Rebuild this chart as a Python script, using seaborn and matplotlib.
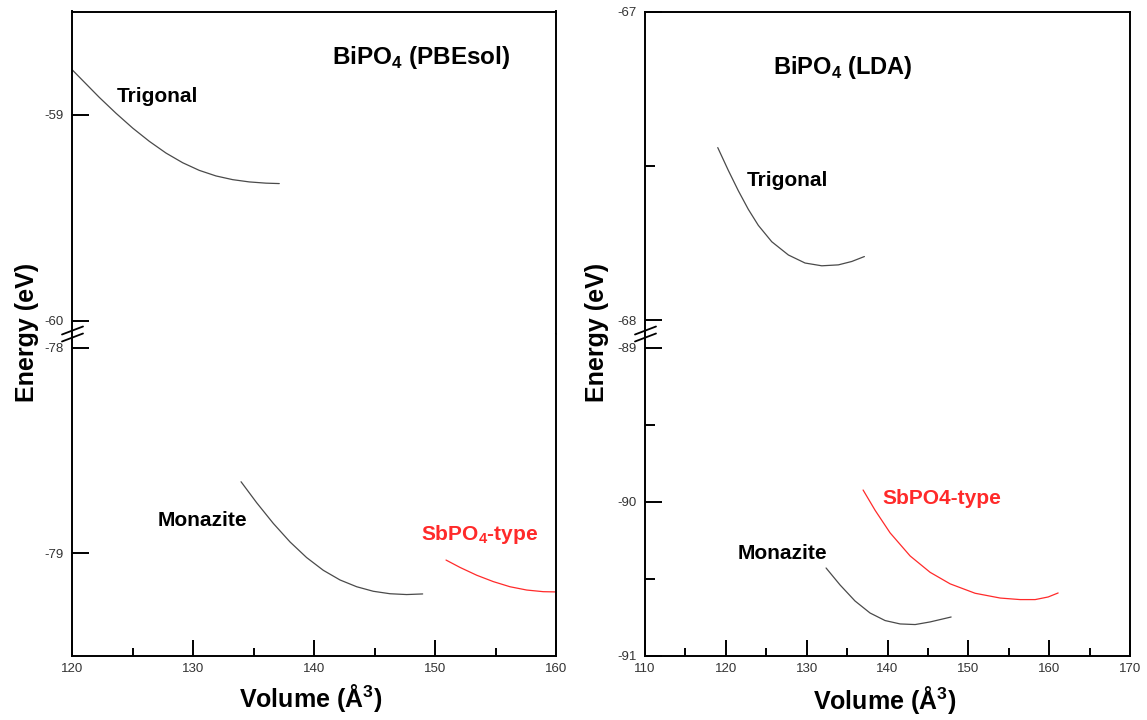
import matplotlib
matplotlib.use("Agg")
import matplotlib.pyplot as plt
from matplotlib.lines import Line2D
import seaborn as sns

# ---------------- data ----------------
# Left panel: BiPO4 (PBEsol)
pbe_trig_V = [120.0, 122.26, 123.64, 125.02, 126.39, 127.77, 129.15, 130.52, 131.90, 133.28, 134.65, 136.03, 137.13]
pbe_trig_E = [-58.782, -58.917, -58.994, -59.066, -59.130, -59.187, -59.234, -59.271, -59.298, -59.316, -59.327, -59.333, -59.335]
pbe_mona_V = [133.97, 135.26, 136.64, 138.02, 139.39, 140.77, 142.15, 143.53, 144.90, 146.28, 147.66, 148.98]
pbe_mona_E = [-78.652, -78.754, -78.855, -78.945, -79.021, -79.083, -79.130, -79.163, -79.185, -79.197, -79.201, -79.198]
pbe_sb_V = [150.91, 152.07, 153.45, 154.82, 156.20, 157.58, 158.95, 159.83, 160.5]
pbe_sb_E = [-79.033, -79.069, -79.107, -79.138, -79.163, -79.179, -79.187, -79.188, -79.189]

# Right panel: BiPO4 (LDA)
lda_trig_V = [119.0, 120.31, 121.55, 122.78, 124.02, 125.68, 127.74, 129.80, 131.87, 133.92, 135.58, 137.14]
lda_trig_E = [-67.441, -67.515, -67.581, -67.641, -67.693, -67.746, -67.789, -67.815, -67.824, -67.821, -67.810, -67.794]
lda_mona_V = [132.40, 134.13, 135.98, 137.84, 139.70, 141.56, 143.42, 145.27, 147.87]
lda_mona_E = [-90.429, -90.539, -90.643, -90.721, -90.770, -90.792, -90.796, -90.779, -90.747]
lda_sb_V = [136.98, 138.47, 140.32, 142.80, 145.27, 147.75, 150.84, 153.94, 156.41, 158.27, 159.88, 161.11]
lda_sb_E = [-89.923, -90.055, -90.201, -90.351, -90.457, -90.532, -90.593, -90.624, -90.634, -90.634, -90.617, -90.591]

# axis ranges / ticks
pbe_xlim = (120, 160)
pbe_xticks = [120, 130, 140, 150, 160]
pbe_up_ylim = (-60.065, -58.5)
pbe_up_yticks = [-60, -59]
pbe_lo_ylim = (-79.5, -77.933)
pbe_lo_yticks = [-79, -78]

lda_xlim = (110, 170)
lda_xticks = [110, 120, 130, 140, 150, 160, 170]
lda_up_ylim = (-68.045, -67.0)
lda_up_yticks = [-68, -67]
lda_up_yminor = [-67.5]
lda_lo_ylim = (-91.0, -88.911)
lda_lo_yticks = [-91, -90, -89]
lda_lo_yminor = [-90.5, -89.5]

# ---------------- style ----------------
sns.set_style("white")
plt.rcParams["font.family"] = ["Liberation Sans", "DejaVu Sans"]
plt.rcParams["axes.unicode_minus"] = False
plt.rcParams["text.color"] = "black"
plt.rcParams["axes.labelcolor"] = "black"
plt.rcParams["mathtext.fontset"] = "custom"
plt.rcParams["mathtext.rm"] = "Liberation Sans"
plt.rcParams["mathtext.bf"] = "Liberation Sans:bold"

W, H = 1147, 720
fig = plt.figure(figsize=(W / 100, H / 100), dpi=100)

def fx(px):
    return px / W

def fy(py):
    return 1 - py / H

TOP, JOIN, BOT = 11.5, 334.0, 656.0
TICKCOL = "#333333"
LINECOL = "#4a4a4a"
RED = "#ff2a2a"
SPW = 1.4

def make_panel(x0, x1, xlim, xticks, up_ylim, up_yticks, lo_ylim, lo_yticks,
               up_minor=None, lo_minor=None):
    axu = fig.add_axes([fx(x0), fy(JOIN), fx(x1 - x0), (JOIN - TOP) / H])
    axl = fig.add_axes([fx(x0), fy(BOT), fx(x1 - x0), (BOT - JOIN) / H])
    for ax in (axu, axl):
        ax.set_xlim(*xlim)
        for s in ax.spines.values():
            s.set_linewidth(SPW)
            s.set_color("black")
        ax.tick_params(axis="both", which="major", direction="in", length=12,
                       width=SPW, color="black", labelsize=9.5, labelcolor=TICKCOL, pad=6)
        ax.tick_params(axis="both", which="minor", direction="in", length=6.5,
                       width=SPW, color="black")
        ax.tick_params(which="both", top=False, right=False, left=True, bottom=True)
        ax.set_facecolor("white")
    axu.set_ylim(*up_ylim)
    axl.set_ylim(*lo_ylim)
    axu.spines["bottom"].set_visible(False)
    axl.spines["top"].set_visible(False)
    axu.tick_params(which="both", bottom=False, labelbottom=False)
    axu.set_xticks([])
    axl.set_xticks(xticks)
    axl.set_xticks([t + 5 for t in xticks[:-1]], minor=True)
    axl.set_xticklabels([str(t) for t in xticks])
    axu.set_yticks(up_yticks)
    axu.set_yticklabels([str(t) for t in up_yticks])
    axl.set_yticks(lo_yticks)
    axl.set_yticklabels([str(t) for t in lo_yticks])
    axu.set_yticks(up_minor or [], minor=True)
    axl.set_yticks(lo_minor or [], minor=True)
    axu.tick_params(axis="y", which="minor", length=7.5)
    axl.tick_params(axis="y", which="minor", length=7.5)
    axl.tick_params(axis="x", which="major", length=11.5, pad=5)
    axl.tick_params(axis="x", which="minor", length=6)
    # break marks on the left spine
    for dy in (-3.5, 3.5):
        yc = JOIN + dy
        fig.add_artist(Line2D([fx(x0 - 10), fx(x0 + 11)], [fy(yc + 4), fy(yc - 4)],
                              transform=fig.transFigure, color="black", lw=1.3))
    return axu, axl

def finish(axu, axl, xlim, up_ylim, lo_ylim):
    for ax in (axu, axl):
        ax.set_xlim(*xlim)
        ax.set_xlabel("")
        ax.set_ylabel("")
    axu.set_ylim(*up_ylim)
    axl.set_ylim(*lo_ylim)

# ---------------- left panel ----------------
Lx0, Lx1 = 72, 556
axu, axl = make_panel(Lx0, Lx1, pbe_xlim, pbe_xticks, pbe_up_ylim, pbe_up_yticks,
                      pbe_lo_ylim, pbe_lo_yticks)
sns.lineplot(x=pbe_trig_V, y=pbe_trig_E, ax=axu, color=LINECOL, lw=0.9)
sns.lineplot(x=pbe_mona_V, y=pbe_mona_E, ax=axl, color=LINECOL, lw=0.9)
sns.lineplot(x=pbe_sb_V, y=pbe_sb_E, ax=axl, color=RED, lw=0.9)
finish(axu, axl, pbe_xlim, pbe_up_ylim, pbe_lo_ylim)
axu.text(148.84, -58.724, r"BiPO$_\mathbf{4}$ (PBEsol)", fontsize=17.5, fontweight="bold",
         ha="center", va="center")
axu.text(127.1, -58.913, "Trigonal", fontsize=15, fontweight="bold", ha="center", va="center")
axl.text(130.74, -78.843, "Monazite", fontsize=15, fontweight="bold", ha="center", va="center")
axl.text(153.72, -78.911, r"SbPO$_\mathbf{4}$-type", fontsize=15, fontweight="bold",
         color=RED, ha="center", va="center")
fig.text(fx(27), fy(332), "Energy (eV)", rotation=90, fontsize=18, fontweight="bold",
         ha="center", va="center")
fig.text(fx(311), fy(698), r"Volume (Å$^\mathbf{3}$)", fontsize=18, fontweight="bold",
         ha="center", va="center")

# ---------------- right panel ----------------
Rx0, Rx1 = 645, 1130
aru, arl = make_panel(Rx0, Rx1, lda_xlim, lda_xticks, lda_up_ylim, lda_up_yticks,
                      lda_lo_ylim, lda_lo_yticks, lda_up_yminor, lda_lo_yminor)
sns.lineplot(x=lda_trig_V, y=lda_trig_E, ax=aru, color=LINECOL, lw=0.9)
sns.lineplot(x=lda_mona_V, y=lda_mona_E, ax=arl, color=LINECOL, lw=0.9)
sns.lineplot(x=lda_sb_V, y=lda_sb_E, ax=arl, color=RED, lw=0.9)
finish(aru, arl, lda_xlim, lda_up_ylim, lda_lo_ylim)
aru.text(134.5, -67.18, r"BiPO$_\mathbf{4}$ (LDA)", fontsize=17, fontweight="bold",
         ha="center", va="center")
aru.text(127.57, -67.549, "Trigonal", fontsize=15, fontweight="bold", ha="center", va="center")
arl.text(126.96, -90.338, "Monazite", fontsize=15, fontweight="bold", ha="center", va="center")
arl.text(146.76, -89.975, "SbPO4-type", fontsize=15, fontweight="bold", color=RED,
         ha="center", va="center")
fig.text(fx(597), fy(332), "Energy (eV)", rotation=90, fontsize=18, fontweight="bold",
         ha="center", va="center")
fig.text(fx(885), fy(700), r"Volume (Å$^\mathbf{3}$)", fontsize=18, fontweight="bold",
         ha="center", va="center")

fig.savefig("out.png", dpi=100, facecolor="white")
